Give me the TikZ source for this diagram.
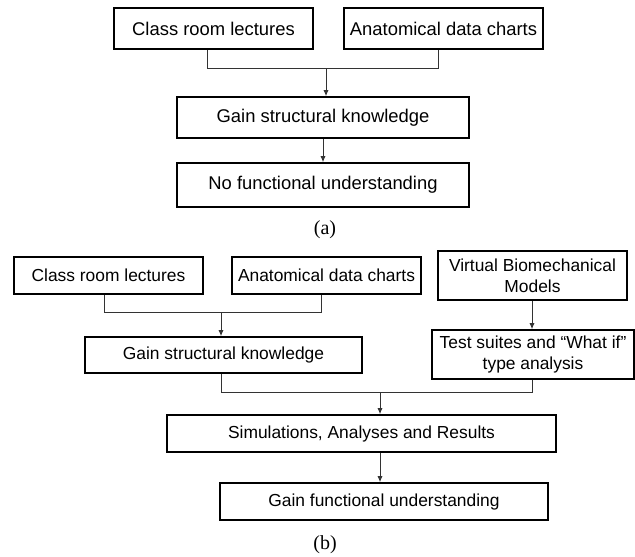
\documentclass[tikz,border=0pt]{standalone}
\usepackage{fontspec}
\setmainfont{Liberation Sans}
\newfontfamily\capfont{Liberation Serif}
\usetikzlibrary{positioning, calc, arrows.meta}

\tikzset{
    flowbox/.style={draw, line width=0.8pt, inner sep=0pt, align=center,
        font=\fontsize{9.2}{11}\selectfont},
    flowboxb/.style={flowbox, font=\fontsize{8.7}{10.6}\selectfont},
    link/.style={line width=0.5pt, draw=black!80},
    linkarrow/.style={link, -{Latex[length=3pt,width=2.6pt]}},
    caption/.style={font=\capfont\fontsize{10}{12}\selectfont}
}

\begin{document}
\begin{tikzpicture}[x=0.5pt, y=-0.5pt]
    \useasboundingbox (0,0) rectangle (635,556);

    %Part (a)
    \node[flowbox, minimum width=99.5pt, minimum height=20.5pt] (aClass) at (213.5,28.5) {Class room lectures};
    \node[flowbox, minimum width=99.5pt, minimum height=20.5pt] (aAnat) at (443.5,28.5) {Anatomical data charts};
    \node[flowbox, minimum width=146pt, minimum height=20.5pt] (aGain) at (323,117.5) {Gain structural knowledge};
    \node[flowbox, minimum width=146pt, minimum height=22pt] (aNoFun) at (323,185) {No functional understanding};
    \node[caption] (aCap) at (325,230) {(a)};

    \coordinate (aJoin) at (326,69);
    \draw[link] ($(aClass.south)+(-6,0)$) |- (aJoin);
    \draw[link] ($(aAnat.south)+(-5,0)$) |- (aJoin);
    \draw[linkarrow] (aJoin) -- (aJoin |- aGain.north);
    \draw[linkarrow] (aGain.south) -- (aNoFun.north);

    %Part (b)
    \node[flowboxb, minimum width=94.5pt, minimum height=18.5pt] (bClass) at (108.5,275.5) {Class room lectures};
    \node[flowboxb, minimum width=94.5pt, minimum height=18.5pt] (bAnat) at (326.5,275.5) {Anatomical data charts};
    \node[flowboxb, minimum width=94.5pt, minimum height=24.5pt] (bVirt) at (532.5,275.5) {Virtual Biomechanical\\Models};
    \node[flowboxb, minimum width=138.5pt, minimum height=18pt] (bGain) at (223.5,355) {Gain structural knowledge};
    \node[flowboxb, minimum width=101pt, minimum height=24.5pt] (bTest) at (533,354.5) {Test suites and “What if”\\type analysis};
    \node[flowboxb, minimum width=194.5pt, minimum height=18.5pt] (bSim) at (361.5,433.5) {Simulations, Analyses and Results};
    \node[flowboxb, minimum width=164pt, minimum height=18.5pt] (bFun) at (384,501.5) {Gain functional understanding};
    \node[caption] (bCap) at (325,545) {(b)};

    \coordinate (bJoin) at (221,312);
    \coordinate (bStem) at (380,392);
    \draw[link] ($(bClass.south)+(-4.5,0)$) |- (bJoin);
    \draw[link] ($(bAnat.south)+(-5.5,0)$) |- (bJoin);
    \draw[linkarrow] (bJoin) -- (bJoin |- bGain.north);
    \draw[linkarrow] ($(bVirt.south)+(-0.5,0)$) -- ($(bTest.north)+(-1,0)$);
    \draw[link] ($(bGain.south)+(-2.5,0)$) |- (bStem);
    \draw[link] ($(bTest.south)+(-1,0)$) |- (bStem);
    \draw[linkarrow] (bStem) -- (bStem |- bSim.north);
    \draw[linkarrow] (bStem |- bSim.south) -- (bStem |- bFun.north);
\end{tikzpicture}
\end{document}
